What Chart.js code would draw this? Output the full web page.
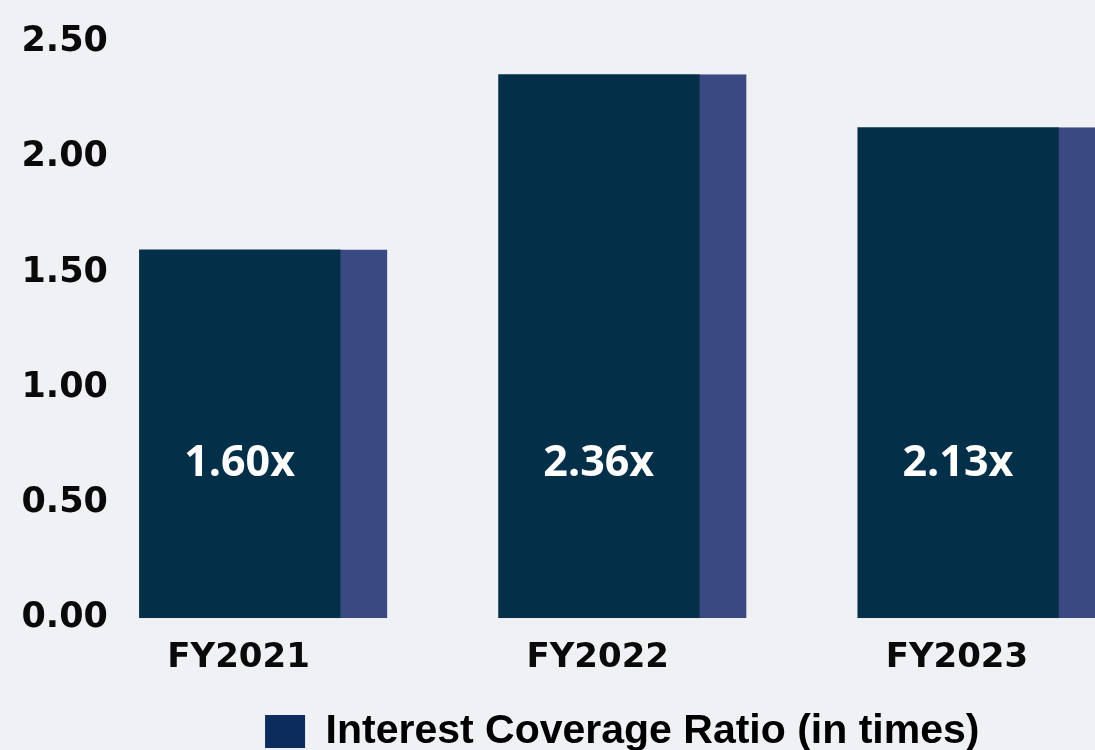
<!DOCTYPE html>
<html lang="en">
<head>
  <meta charset="UTF-8">
  <title>Interest Coverage Ratio</title>
  <script src="https://cdn.jsdelivr.net/npm/chart.js"></script>
  <style>
    html, body { margin: 0; padding: 0; overflow: hidden; background: #f0f1f4; }
    #wrap { width: 1161px; height: 750px; }
  </style>
</head>
<body>
  <div id="wrap"><canvas id="grafico" width="1161" height="750"></canvas></div>

  <script>
    const years = ['FY2021', 'FY2022', 'FY2023'];
    const coverage = [1.60, 2.36, 2.13];
    const yTicks = [0, 0.5, 1, 1.5, 2, 2.5];
    const seriesName = 'Interest Coverage Ratio (in times)';

    const navy = '#032f48';
    const sideBlue = '#3b4982';
    const sideWidth = 47;

    // texto blanco dentro de cada barra
    const valueLabels = {
      id: 'valueLabels',
      afterDatasetsDraw(chart) {
        const ctx = chart.ctx;
        const yScale = chart.scales.y;
        const meta = chart.getDatasetMeta(0);
        ctx.save();
        ctx.fillStyle = '#ffffff';
        ctx.font = '700 43px "Open Sans"';
        ctx.textAlign = 'center';
        ctx.textBaseline = 'middle';
        meta.data.forEach((bar, i) => {
          ctx.fillText(coverage[i].toFixed(2) + 'x', bar.x - sideWidth / 2, yScale.getPixelForValue(0.67));
        });
        ctx.restore();
      }
    };

    const ctx = document.getElementById('grafico').getContext('2d');
    new Chart(ctx, {
      type: 'bar',
      data: {
        labels: years,
        datasets: [{
          label: seriesName,
          data: coverage,
          backgroundColor: navy,
          borderColor: sideBlue,
          borderWidth: { top: 0, right: sideWidth, bottom: 0, left: 0 },
          borderSkipped: false,
          barThickness: 248
        }]
      },
      options: {
        responsive: false,
        animation: false,
        layout: { padding: { top: 42, bottom: -12, left: 0, right: 0 } },
        plugins: {
          tooltip: { enabled: false },
          legend: {
            position: 'bottom',
            fullSize: false,
            labels: {
              boxWidth: 40,
              boxHeight: 33,
              padding: 12,
              color: '#15325e',
              font: { family: '"Liberation Sans Narrow", "Liberation Sans"', size: 41, weight: '700' },
              generateLabels: (chart) => chart.data.datasets.map((ds, i) => ({
                text: ds.label,
                fillStyle: '#0b2c5c',
                strokeStyle: '#0b2c5c',
                lineWidth: 0,
                datasetIndex: i
              }))
            }
          }
        },
        scales: {
          x: {
            grid: { display: false, drawTicks: false },
            border: { display: false },
            ticks: {
              color: '#0a0a0a',
              labelOffset: -24.5,
              padding: 20,
              font: { family: '"DejaVu Sans"', size: 34, weight: '700' }
            }
          },
          y: {
            min: 0,
            max: 2.5,
            afterFit: (scale) => { scale.width = 83.5; },
            afterBuildTicks: (scale) => { scale.ticks = yTicks.map(v => ({ value: v })); },
            grid: { display: false, drawTicks: false },
            border: { display: false },
            ticks: {
              color: '#0a0a0a',
              mirror: true,
              padding: -62,
              font: { family: '"DejaVu Sans"', size: 35, weight: '700' },
              callback: (v) => Number(v).toFixed(2)
            }
          }
        }
      },
      plugins: [valueLabels]
    });
  </script>
</body>
</html>
